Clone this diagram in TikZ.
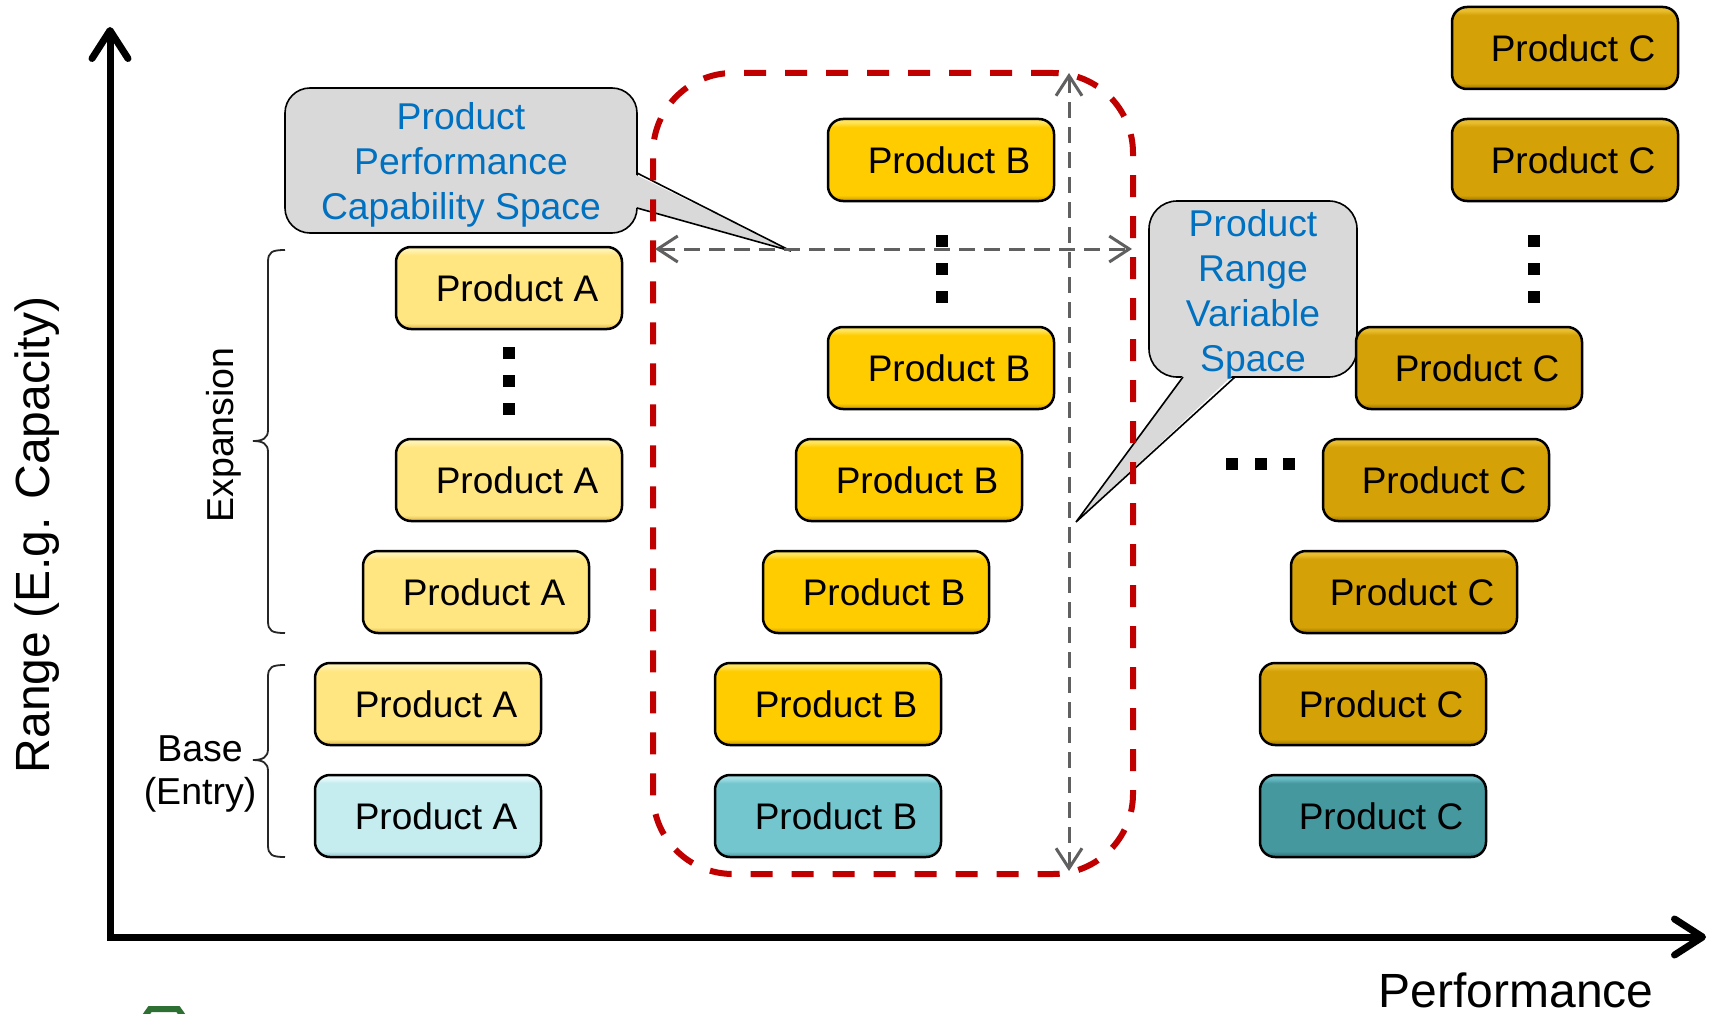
\documentclass[tikz,border=0pt]{standalone}
\usepackage{fontspec}
\setmainfont{Liberation Sans}
\usetikzlibrary{arrows.meta}

\definecolor{aTop}{HTML}{FFF3B0}\definecolor{aMid}{HTML}{FFE680}\definecolor{aBot}{HTML}{D4B048}
\definecolor{cyTop}{HTML}{E8FAFB}\definecolor{cyMid}{HTML}{C5ECEF}\definecolor{cyBot}{HTML}{8EC2C7}
\definecolor{bTop}{HTML}{FFE45A}\definecolor{bMid}{HTML}{FFCC00}\definecolor{bBot}{HTML}{C49600}
\definecolor{btTop}{HTML}{A2E0E6}\definecolor{btMid}{HTML}{74C6CE}\definecolor{btBot}{HTML}{4A979E}
\definecolor{cTop}{HTML}{E9BE2E}\definecolor{cMid}{HTML}{D4A106}\definecolor{cBot}{HTML}{987100}
\definecolor{ctTop}{HTML}{6BBEC6}\definecolor{ctMid}{HTML}{46989F}\definecolor{ctBot}{HTML}{2C6A70}
\definecolor{callgray}{HTML}{D9D9D9}
\definecolor{callblue}{HTML}{0070C0}
\definecolor{spacered}{HTML}{C00000}
\definecolor{arrowgray}{HTML}{606060}
\definecolor{logogreen}{HTML}{2E7033}

\newcommand{\mkshade}[4]{%
  \pgfdeclareverticalshading{#1}{100bp}{color(0bp)=(#4); color(25bp)=(#4); color(28.5bp)=(#3); color(70bp)=(#3); color(73bp)=(#2); color(75bp)=(#2); color(100bp)=(#2)}}
\mkshade{shA}{aTop}{aMid}{aBot}
\mkshade{shCy}{cyTop}{cyMid}{cyBot}
\mkshade{shB}{bTop}{bMid}{bBot}
\mkshade{shBt}{btTop}{btMid}{btBot}
\mkshade{shC}{cTop}{cMid}{cBot}
\mkshade{shCt}{ctTop}{ctMid}{ctBot}

\tikzset{
  prod/.style={draw=black, line width=2.5pt, rounded corners=15pt,
    minimum width=226pt, minimum height=82pt, inner sep=0pt,
    font=\fontsize{37}{44}\selectfont, execute at begin node={\hspace*{16pt}}},
  pA/.style={prod, shading=shA},
  pAc/.style={prod, shading=shCy},
  pB/.style={prod, shading=shB},
  pBt/.style={prod, shading=shBt},
  pC/.style={prod, shading=shC},
  pCt/.style={prod, shading=shCt},
  dotsq/.style={fill=black, minimum size=11.5pt, inner sep=0pt},
  callbox/.style={draw=black, fill=callgray, line width=1.6pt, inner sep=0pt},
  calltext/.style={text=callblue, align=center, font=\fontsize{37.3}{45}\selectfont},
  spacebox/.style={draw=spacered, line width=6pt, dash pattern=on 22pt off 19pt,
    rounded corners=80pt, inner sep=0pt},
  gdash/.style={draw=arrowgray, line width=3pt, dash pattern=on 16pt off 9pt,
    {Straight Barb[length=20pt,width=26pt]}-{Straight Barb[length=20pt,width=26pt]}},
  axisline/.style={line width=7pt, line join=miter,
    {Straight Barb[length=28pt,width=36pt,round]}-{Straight Barb[length=28pt,width=36pt,round]}},
  bracel/.style={draw=black!85, line width=1.8pt},
  biglabel/.style={font=\fontsize{48}{56}\selectfont},
  sidelabel/.style={font=\fontsize{37.5}{43}\selectfont}
}

\begin{document}
\begin{tikzpicture}[x=1pt,y=-1pt]
\useasboundingbox[fill=white] (0,0) rectangle (1713,1014);

% partial logo at the bottom edge
\draw[logogreen, line width=6pt] (138,1026) -- (150,1009) -- (178,1009) -- (190,1026);

% axes
\coordinate (yT) at (110,27);
\coordinate (O) at (110,937);
\coordinate (xR) at (1706,937);
\draw[axisline] (yT) -- (O) -- (xR);
\node[biglabel, rotate=90] (ylab) at (37,535) {Range (E.g. Capacity)};
\node[biglabel, anchor=base] (xlab) at (1516,1007) {Performance};

% callout 1
\node[callbox, rounded corners=25pt, minimum width=352pt, minimum height=145pt] (cb1) at (461,160.5) {};
\coordinate (t1) at (791,251);
\fill[callgray] (634,174) -- (t1) -- (634,207) -- cycle;
\draw[line width=1.6pt, line join=miter] (637,173) -- (t1) -- (637,208);
\node[calltext] (ct1) at (461,165) {Product\\Performance\\Capability Space};

% callout 2
\node[callbox, rounded corners=28pt, minimum width=208pt, minimum height=176pt] (cb2) at (1253,289) {};
\coordinate (t2) at (1076,522);
\fill[callgray] (1184,374) -- (t2) -- (1234,374) -- cycle;
\draw[line width=1.6pt, line join=miter] (1183,377) -- (t2) -- (1235,377);
\node[calltext] (ct2) at (1253,294) {Product\\Range\\Variable\\Space};

% red space
\node[spacebox, minimum width=480pt, minimum height=801pt] (space) at (893,473.5) {};

% grey double arrows
\coordinate (hL) at (655,249);
\coordinate (hR) at (1132,249);
\coordinate (vT) at (1069,73);
\coordinate (vB) at (1069,871);
\draw[gdash] (hL) -- (hR);
\draw[gdash] (vT) -- (vB);

% product A
\node[pA] (a1) at (509,288) {Product A};
\node[pA] (a2) at (509,480) {Product A};
\node[pA] (a3) at (476,592) {Product A};
\node[pA] (a4) at (428,704) {Product A};
\node[pAc] (a5) at (428,816) {Product A};
\node[dotsq] (da1) at (509,353) {};
\node[dotsq] (da2) at (509,381) {};
\node[dotsq] (da3) at (509,409) {};

% product B
\node[pB] (b1) at (941,160) {Product B};
\node[pB] (b2) at (941,368) {Product B};
\node[pB] (b3) at (909,480) {Product B};
\node[pB] (b4) at (876,592) {Product B};
\node[pB] (b5) at (828,704) {Product B};
\node[pBt] (b6) at (828,816) {Product B};
\node[dotsq] (db1) at (942,241) {};
\node[dotsq] (db2) at (942,269) {};
\node[dotsq] (db3) at (942,297) {};

% product C
\node[pC] (c1) at (1565,48) {Product C};
\node[pC] (c2) at (1565,160) {Product C};
\node[pC] (c3) at (1469,368) {Product C};
\node[pC] (c4) at (1436,480) {Product C};
\node[pC] (c5) at (1404,592) {Product C};
\node[pC] (c6) at (1373,704) {Product C};
\node[pCt] (c7) at (1373,816) {Product C};
\node[dotsq] (dc1) at (1534,241) {};
\node[dotsq] (dc2) at (1534,269) {};
\node[dotsq] (dc3) at (1534,297) {};
\node[dotsq] (dh1) at (1232,464) {};
\node[dotsq] (dh2) at (1261,464) {};
\node[dotsq] (dh3) at (1289,464) {};

% braces
\draw[bracel] (285,250) .. controls (272,250) and (268,252) .. (268,262)
  -- (268,430) .. controls (268,438) and (263,441) .. (253,441)
  .. controls (263,441) and (268,444) .. (268,452)
  -- (268,621) .. controls (268,631) and (272,633) .. (285,633);
\draw[bracel] (285,665) .. controls (272,665) and (268,667) .. (268,677)
  -- (268,749) .. controls (268,757) and (263,760) .. (253,760)
  .. controls (263,760) and (268,763) .. (268,771)
  -- (268,845) .. controls (268,855) and (272,857) .. (285,857);
\node[sidelabel, rotate=90] (exp) at (224,435) {Expansion};
\node[sidelabel, align=center] (base) at (200,774) {Base\\(Entry)};
\end{tikzpicture}
\end{document}
